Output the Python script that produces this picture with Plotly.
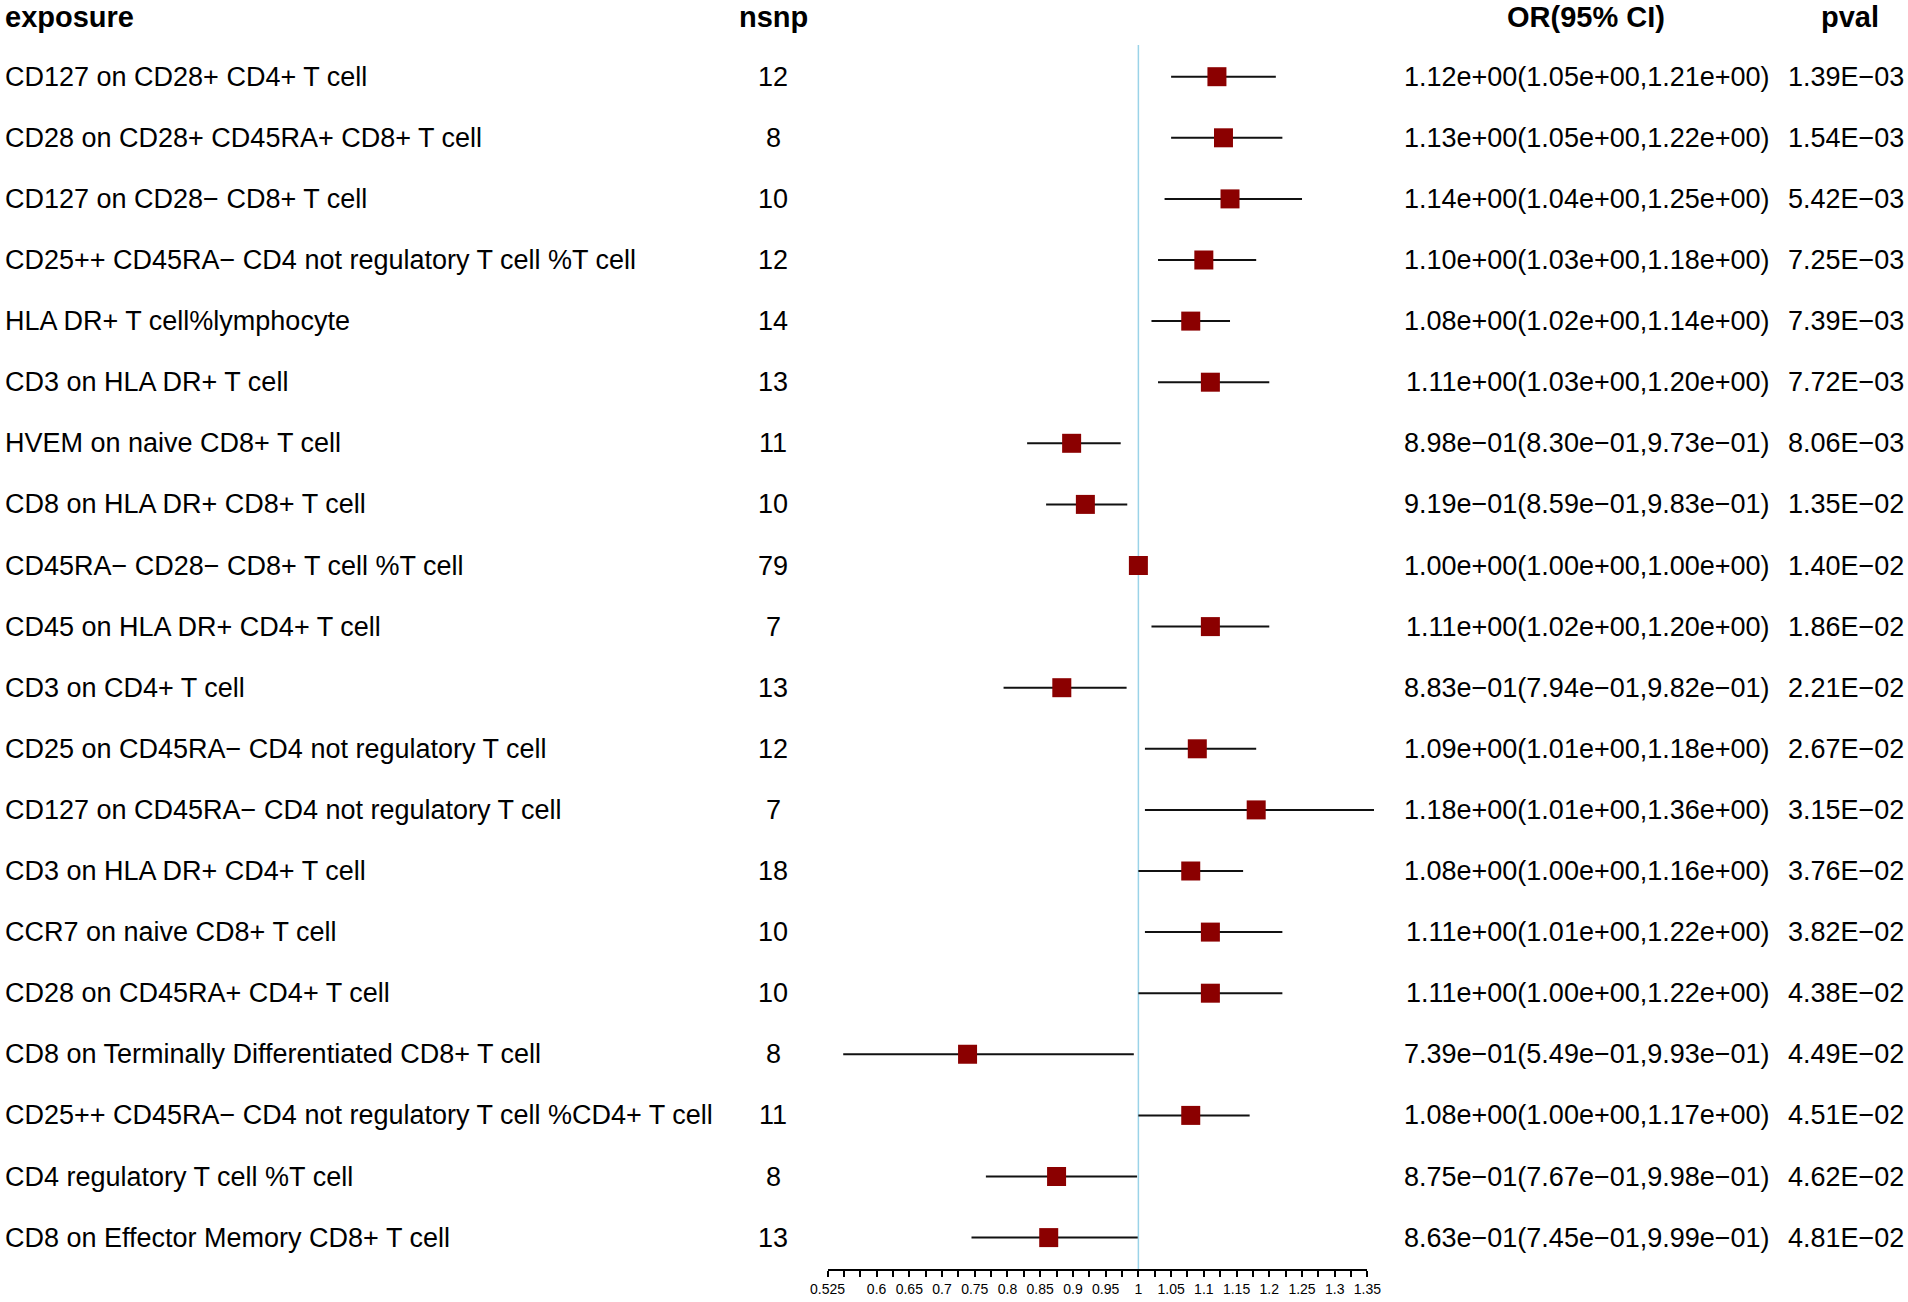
import numpy as np
import plotly.graph_objects as go

# ---------------- data ----------------
exposure = [
    "CD127 on CD28+ CD4+ T cell",
    "CD28 on CD28+ CD45RA+ CD8+ T cell",
    "CD127 on CD28\u2212 CD8+ T cell",
    "CD25++ CD45RA\u2212 CD4 not regulatory T cell %T cell",
    "HLA DR+ T cell%lymphocyte",
    "CD3 on HLA DR+ T cell",
    "HVEM on naive CD8+ T cell",
    "CD8 on HLA DR+ CD8+ T cell",
    "CD45RA\u2212 CD28\u2212 CD8+ T cell %T cell",
    "CD45 on HLA DR+ CD4+ T cell",
    "CD3 on CD4+ T cell",
    "CD25 on CD45RA\u2212 CD4 not regulatory T cell",
    "CD127 on CD45RA\u2212 CD4 not regulatory T cell",
    "CD3 on HLA DR+ CD4+ T cell",
    "CCR7 on naive CD8+ T cell",
    "CD28 on CD45RA+ CD4+ T cell",
    "CD8 on Terminally Differentiated CD8+ T cell",
    "CD25++ CD45RA\u2212 CD4 not regulatory T cell %CD4+ T cell",
    "CD4 regulatory T cell %T cell",
    "CD8 on Effector Memory CD8+ T cell",
]
nsnp = [12, 8, 10, 12, 14, 13, 11, 10, 79, 7, 13, 12, 7, 18, 10, 10, 8, 11, 8, 13]
or_val = [1.12, 1.13, 1.14, 1.10, 1.08, 1.11, 0.898, 0.919, 1.00, 1.11,
          0.883, 1.09, 1.18, 1.08, 1.11, 1.11, 0.739, 1.08, 0.875, 0.863]
or_low = [1.05, 1.05, 1.04, 1.03, 1.02, 1.03, 0.830, 0.859, 1.00, 1.02,
          0.794, 1.01, 1.01, 1.00, 1.01, 1.00, 0.549, 1.00, 0.767, 0.745]
or_high = [1.21, 1.22, 1.25, 1.18, 1.14, 1.20, 0.973, 0.983, 1.00, 1.20,
           0.982, 1.18, 1.36, 1.16, 1.22, 1.22, 0.993, 1.17, 0.998, 0.999]
pval = [1.39e-03, 1.54e-03, 5.42e-03, 7.25e-03, 7.39e-03, 7.72e-03, 8.06e-03,
        1.35e-02, 1.40e-02, 1.86e-02, 2.21e-02, 2.67e-02, 3.15e-02, 3.76e-02,
        3.82e-02, 4.38e-02, 4.49e-02, 4.51e-02, 4.62e-02, 4.81e-02]
headers = ["exposure", "nsnp", "OR(95% CI)", "pval"]
ref_value = 1.0
axis_min, axis_max, tick_step = 0.525, 1.35, 0.025
tick_labels = [0.525, 0.6, 0.65, 0.7, 0.75, 0.8, 0.85, 0.9, 0.95, 1.0,
               1.05, 1.1, 1.15, 1.2, 1.25, 1.3, 1.35]

# ---------------- layout constants ----------------
W, H = 1908, 1302
FONT = "Liberation Sans, Arial, sans-serif"
FS = 27
FS_HEAD = 29
X0_PX = 827.5          # pixel of axis_min
PX_PER_UNIT = 654.5
ROW0_PX = 76.7
ROW_STEP = 61.1
AXIS_PX = 1269.0
HEADER_PX = 17.0

def xpx(v):
    return X0_PX + (v - axis_min) * PX_PER_UNIT

n = len(exposure)
rows = list(range(n))

fmt_minus = lambda s: s.replace("-", "\u2212")
or_text = [fmt_minus(f"{o:.2e}({l:.2e},{h:.2e})") for o, l, h in zip(or_val, or_low, or_high)]
p_text = [fmt_minus(f"{p:.2E}") for p in pval]

y_top = -ROW0_PX / ROW_STEP
y_bot = (AXIS_PX - ROW0_PX) / ROW_STEP
line_top = (45 - ROW0_PX) / ROW_STEP

wide_lo, wide_hi = 0.45, 1.45

fig = go.Figure()

# reference line
fig.add_trace(go.Scatter(x=[ref_value, ref_value], y=[line_top, y_bot], mode="lines",
                         xaxis="x2", yaxis="y", line=dict(color="#9BD3E8", width=1.5),
                         hoverinfo="skip", showlegend=False))
# CI lines
ci_x, ci_y = [], []
for r, l, h in zip(rows, or_low, or_high):
    ci_x += [l, h, None]
    ci_y += [r, r, None]
fig.add_trace(go.Scatter(x=ci_x, y=ci_y, mode="lines", xaxis="x2", yaxis="y",
                         line=dict(color="#111111", width=2), hoverinfo="skip",
                         showlegend=False))
# points
fig.add_trace(go.Scatter(x=or_val, y=rows, mode="markers", xaxis="x2", yaxis="y",
                         marker=dict(symbol="square", size=19, color="#8B0000",
                                     line=dict(width=0)),
                         showlegend=False))
# dummy for tick axis
fig.add_trace(go.Scatter(x=[None], y=[None], xaxis="x", yaxis="y", showlegend=False,
                         hoverinfo="skip"))

tickvals = [round(v, 3) for v in np.arange(axis_min, axis_max + tick_step / 2, tick_step)]
label_set = set(round(v, 3) for v in tick_labels)
ticktext = [f"{v:g}" if v in label_set else "" for v in tickvals]

annotations = []
col_x = {"exposure": (3, "left"), "nsnp": (773, "center"),
         "or": (1772, "right"), "pval": (1906, "right")}
cols = [("exposure", exposure), ("nsnp", [str(v) for v in nsnp]),
        ("or", or_text), ("pval", p_text)]
for key, texts in cols:
    px, anc = col_x[key]
    for r in rows:
        annotations.append(dict(x=px / W, xref="paper", y=r, yref="y",
                                text=texts[r], xanchor=anc, yanchor="middle",
                                showarrow=False,
                                font=dict(family=FONT, size=FS, color="black")))

header_pos = [(3, "left"), (773, "center"), (1586, "center"), (1850, "center")]
for htxt, (hx, anc) in zip(headers, header_pos):
    annotations.append(dict(x=hx / W, xref="paper", y=1 - HEADER_PX / H, yref="paper",
                            text=f"<b>{htxt}</b>", xanchor=anc, yanchor="middle",
                            showarrow=False, font=dict(family=FONT, size=FS_HEAD, color="black")))

fig.update_layout(
    width=W, height=H,
    margin=dict(l=0, r=0, t=0, b=0, pad=0, autoexpand=False),
    paper_bgcolor="white", plot_bgcolor="rgba(0,0,0,0)",
    showlegend=False,
    font=dict(family=FONT, color="black"),
    xaxis=dict(domain=[xpx(axis_min) / W, xpx(axis_max) / W], range=[axis_min, axis_max],
               anchor="y", tickmode="array", tickvals=tickvals, ticktext=ticktext,
               ticks="outside", ticklen=6, tickwidth=1.5, tickcolor="black",
               showline=True, linewidth=1.5, linecolor="black", showgrid=False,
               zeroline=False, tickfont=dict(family=FONT, size=14, color="black"),
               automargin=False, fixedrange=True),
    xaxis2=dict(domain=[xpx(wide_lo) / W, xpx(wide_hi) / W], range=[wide_lo, wide_hi],
                anchor="y", visible=False, automargin=False, fixedrange=True),
    yaxis=dict(domain=[(H - AXIS_PX) / H, 1], range=[y_bot, y_top], visible=False,
               automargin=False, fixedrange=True),
    annotations=annotations,
)

fig.write_html("out.html", config={"displayModeBar": False},
               post_script="document.body.style.margin='0';document.body.style.overflow='hidden';")
